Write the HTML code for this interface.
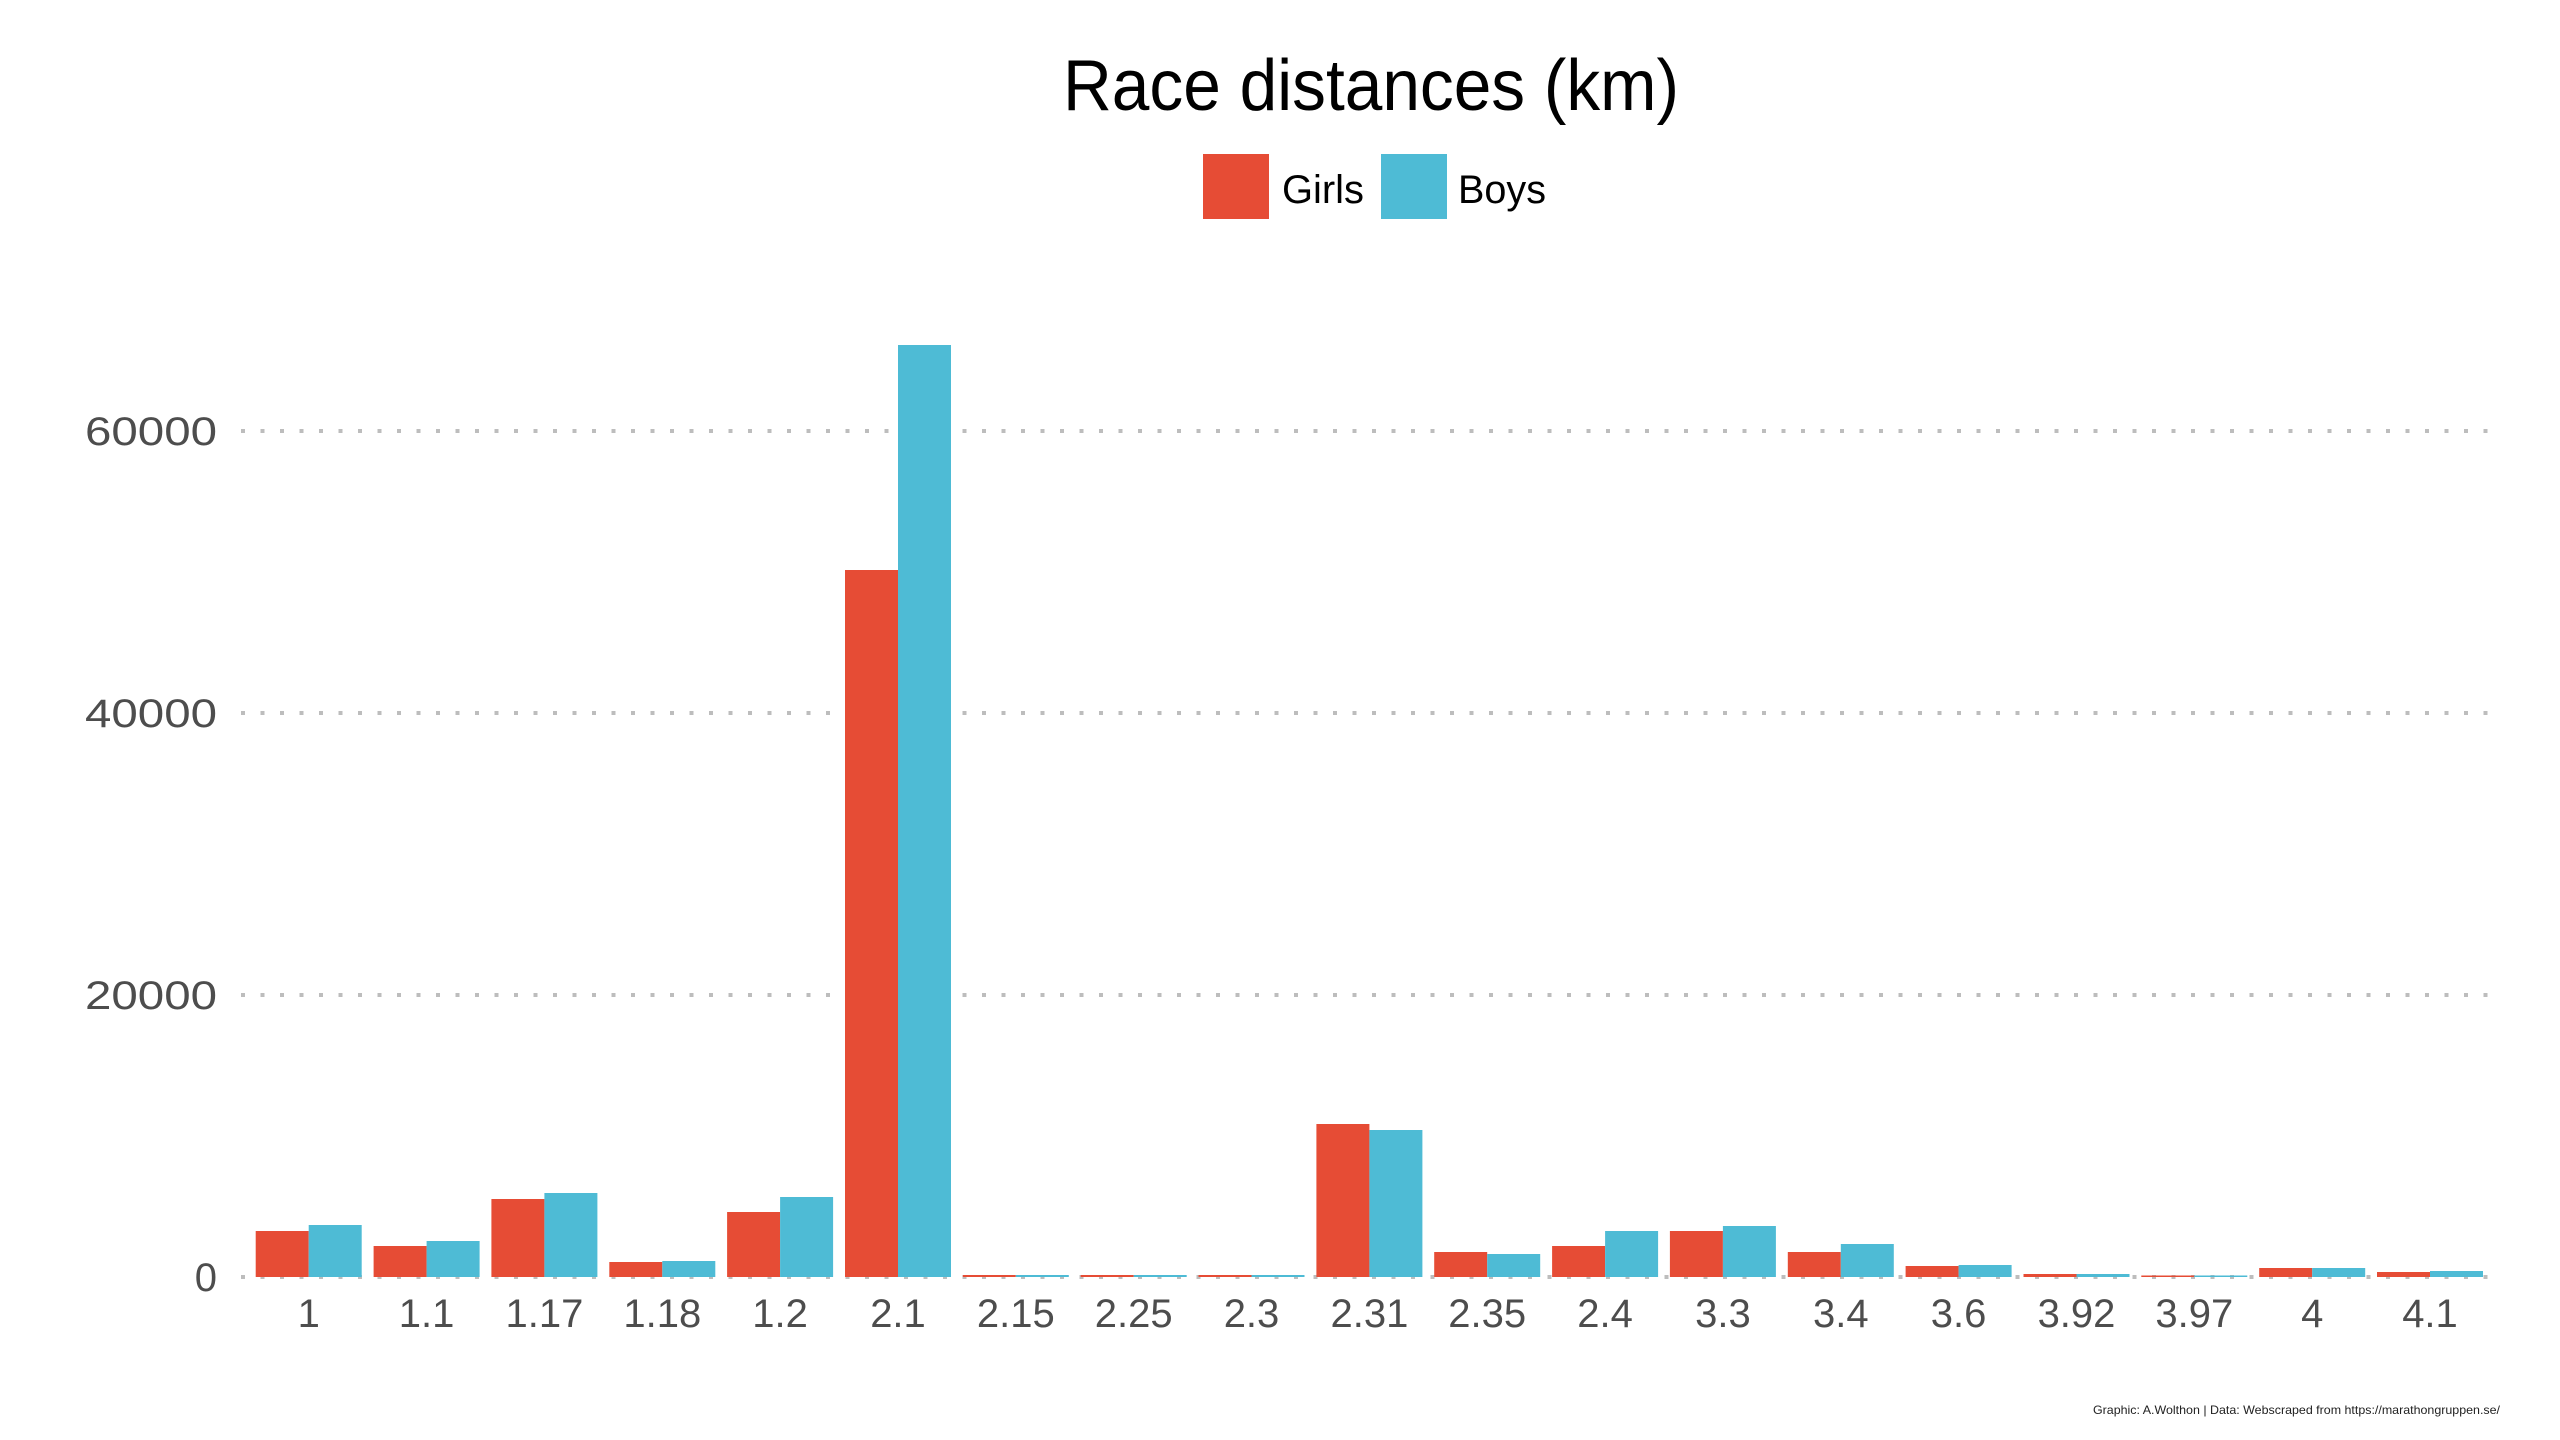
<!DOCTYPE html>
<html><head><meta charset="utf-8"><style>
html,body{margin:0;padding:0;background:#fff;}
svg{display:block;}
text{font-family:"Liberation Sans",sans-serif;}
</style></head><body>
<svg width="2560" height="1440" viewBox="0 0 2560 1440" xmlns="http://www.w3.org/2000/svg">
<rect width="2560" height="1440" fill="#fff"/>
<text x="1371" y="110" font-size="72" text-anchor="middle" fill="#000" textLength="616" lengthAdjust="spacingAndGlyphs">Race distances (km)</text>
<rect x="1203" y="154" width="66" height="65" fill="#E64C35"/>
<text x="1282" y="203" font-size="40" fill="#000" textLength="82" lengthAdjust="spacingAndGlyphs">Girls</text>
<rect x="1381" y="154" width="66" height="65" fill="#4EBBD5"/>
<text x="1458" y="203" font-size="40" fill="#000" textLength="88" lengthAdjust="spacingAndGlyphs">Boys</text>
<g stroke="#BDBDBD" stroke-width="4" stroke-dasharray="4 15.5">
<line x1="241" y1="431" x2="2495" y2="431"/>
<line x1="241" y1="713" x2="2495" y2="713"/>
<line x1="241" y1="995" x2="2495" y2="995"/>
<line x1="241" y1="1277" x2="2495" y2="1277"/>
</g>
<g font-size="40" fill="#4D4D4D" text-anchor="end">
<text x="217" y="445" textLength="132" lengthAdjust="spacingAndGlyphs">60000</text>
<text x="217" y="727" textLength="132" lengthAdjust="spacingAndGlyphs">40000</text>
<text x="217" y="1009" textLength="132" lengthAdjust="spacingAndGlyphs">20000</text>
<text x="217" y="1291">0</text>
</g>
<g fill="#E64C35">
<rect x="255.7" y="1231" width="53" height="46"/>
<rect x="373.6" y="1246" width="53" height="31"/>
<rect x="491.4" y="1199" width="53" height="78"/>
<rect x="609.3" y="1262" width="53" height="15"/>
<rect x="727.1" y="1212" width="53" height="65"/>
<rect x="845.0" y="570" width="53" height="707"/>
<rect x="962.8" y="1275" width="53" height="2"/>
<rect x="1080.7" y="1275" width="53" height="2"/>
<rect x="1198.5" y="1275" width="53" height="2"/>
<rect x="1316.4" y="1124" width="53" height="153"/>
<rect x="1434.2" y="1252" width="53" height="25"/>
<rect x="1552.1" y="1246" width="53" height="31"/>
<rect x="1669.9" y="1231" width="53" height="46"/>
<rect x="1787.8" y="1252" width="53" height="25"/>
<rect x="1905.6" y="1266" width="53" height="11"/>
<rect x="2023.5" y="1274" width="53" height="3"/>
<rect x="2141.3" y="1275.5" width="53" height="1.5"/>
<rect x="2259.2" y="1268" width="53" height="9"/>
<rect x="2377.0" y="1272" width="53" height="5"/>
</g>
<g fill="#4EBBD5">
<rect x="308.7" y="1225" width="53" height="52"/>
<rect x="426.6" y="1241" width="53" height="36"/>
<rect x="544.4" y="1193" width="53" height="84"/>
<rect x="662.3" y="1261" width="53" height="16"/>
<rect x="780.1" y="1197" width="53" height="80"/>
<rect x="898.0" y="345" width="53" height="932"/>
<rect x="1015.8" y="1275" width="53" height="2"/>
<rect x="1133.7" y="1275" width="53" height="2"/>
<rect x="1251.5" y="1275" width="53" height="2"/>
<rect x="1369.4" y="1130" width="53" height="147"/>
<rect x="1487.2" y="1254" width="53" height="23"/>
<rect x="1605.1" y="1231" width="53" height="46"/>
<rect x="1722.9" y="1226" width="53" height="51"/>
<rect x="1840.8" y="1244" width="53" height="33"/>
<rect x="1958.6" y="1265" width="53" height="12"/>
<rect x="2076.5" y="1274" width="53" height="3"/>
<rect x="2194.3" y="1275.5" width="53" height="1.5"/>
<rect x="2312.2" y="1268" width="53" height="9"/>
<rect x="2430.0" y="1271" width="53" height="6"/>
</g>
<g font-size="40" fill="#4D4D4D" text-anchor="middle">
<text x="308.7" y="1327">1</text>
<text x="426.6" y="1327">1.1</text>
<text x="544.4" y="1327">1.17</text>
<text x="662.3" y="1327">1.18</text>
<text x="780.1" y="1327">1.2</text>
<text x="898.0" y="1327">2.1</text>
<text x="1015.8" y="1327">2.15</text>
<text x="1133.7" y="1327">2.25</text>
<text x="1251.5" y="1327">2.3</text>
<text x="1369.4" y="1327">2.31</text>
<text x="1487.2" y="1327">2.35</text>
<text x="1605.1" y="1327">2.4</text>
<text x="1722.9" y="1327">3.3</text>
<text x="1840.8" y="1327">3.4</text>
<text x="1958.6" y="1327">3.6</text>
<text x="2076.5" y="1327">3.92</text>
<text x="2194.3" y="1327">3.97</text>
<text x="2312.2" y="1327">4</text>
<text x="2430.0" y="1327">4.1</text>
</g>
<text x="2500" y="1414" font-size="12" fill="#222" text-anchor="end" textLength="407" lengthAdjust="spacingAndGlyphs">Graphic: A.Wolthon | Data: Webscraped from https://marathongruppen.se/</text>
</svg>
</body></html>
